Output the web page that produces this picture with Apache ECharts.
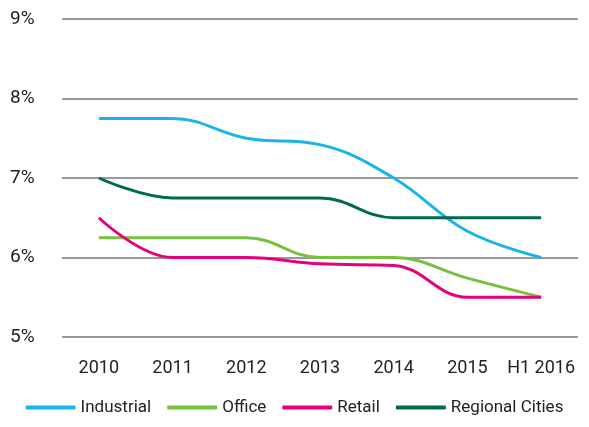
<!DOCTYPE html>
<html>
<head>
<meta charset="utf-8">
<script src="https://cdn.jsdelivr.net/npm/echarts@6/dist/echarts.min.js"></script>
<style>
  html, body { margin: 0; padding: 0; background: #fff; }
  #main { width: 589px; height: 427px; }
</style>
</head>
<body>
<div id="main"></div>
<script type="text/javascript">
    // categories (years)
    var years = ['2010', '2011', '2012', '2013', '2014', '2015', 'H1 2016'];
    // yields in %
    var industrial = [7.75, 7.75, 7.5, 7.42, 7.0, 6.33, 6.0];
    var office = [6.25, 6.25, 6.25, 6.0, 6.0, 5.74, 5.5];
    var retail = [6.5, 6.0, 6.0, 5.92, 5.9, 5.5, 5.5];
    var regional = [7.0, 6.75, 6.75, 6.75, 6.5, 6.5, 6.5];

    var seriesNames = ['Industrial', 'Office', 'Retail', 'Regional Cities'];
    var seriesColors = ['#1ab4ea', '#78c13e', '#e6007e', '#006a4d'];
    var seriesData = [industrial, office, retail, regional];

    var font = 'Roboto, sans-serif';

    var chart = echarts.init(document.getElementById('main'));

    var series = [];
    for (var i = 0; i < seriesNames.length; i++) {
        series.push({
            name: seriesNames[i],
            type: 'line',
            smooth: 0.4,
            symbol: 'none',
            data: seriesData[i],
            lineStyle: { width: 3, color: seriesColors[i] },
            itemStyle: { color: seriesColors[i] }
        });
    }

    var option = {
        animation: false,
        textStyle: { fontFamily: font },
        grid: { left: 62, right: 11, top: 19, bottom: 90 },
        legend: {
            bottom: 6,
            left: 'center',
            icon: 'roundRect',
            itemWidth: 50,
            itemHeight: 4,
            itemGap: 16,
            textStyle: { fontSize: 17, color: '#222', fontFamily: font },
            data: seriesNames
        },
        xAxis: {
            type: 'category',
            data: years,
            boundaryGap: true,
            axisLine: { show: false },
            axisTick: { show: false },
            axisLabel: { interval: 0, fontSize: 18, color: '#222', margin: 22, fontFamily: font }
        },
        yAxis: {
            type: 'value',
            min: 5,
            max: 9,
            interval: 1,
            axisLine: { show: false },
            axisTick: { show: false },
            axisLabel: {
                fontSize: 19, color: '#222', margin: 52, align: 'left', fontFamily: font,
                formatter: function (v) { return v + '%'; }
            },
            splitLine: { lineStyle: { color: '#999', width: 2 } }
        },
        series: series
    };
    chart.setOption(option);
</script>
</body>
</html>
